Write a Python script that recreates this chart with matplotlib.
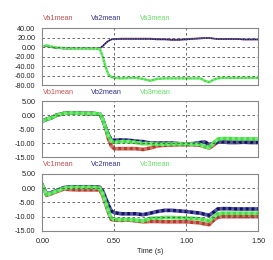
import matplotlib.pyplot as plt

# Tiempo (s)
t = [0.00, 0.03, 0.06, 0.10, 0.15, 0.20, 0.25, 0.30, 0.35, 0.40, 0.42, 0.44,
     0.46, 0.48, 0.50, 0.55, 0.60, 0.65, 0.70, 0.75, 0.80, 0.85, 0.90, 0.95,
     1.00, 1.05, 1.10, 1.13, 1.16, 1.19, 1.22, 1.25, 1.30, 1.35, 1.40, 1.45, 1.50]

va1 = [0, 2, 0, -2, -3, -3, -3, -3, -3, -3, 2, 8, 13, 16, 17, 18, 18, 18, 18, 18,
       17, 17, 16, 16, 17, 18, 19, 19, 19, 18, 17, 17, 17, 17, 16, 16, 16]
va2 = [0, 2, 0, -2, -3, -3, -3, -3, -3, -3, 2, 8, 13, 16, 17, 17, 17, 17, 17, 17,
       16, 16, 15, 15, 16, 17, 18, 19, 19, 18, 17, 17, 17, 17, 16, 16, 16]
va3 = [0, 4, 1, -1, -2, -3, -3, -3, -3, -4, -20, -42, -58, -63, -65, -66, -65,
       -65, -67, -71, -67, -66, -66, -66, -66, -66, -66, -71, -74, -69, -66, -65,
       -65, -65, -65, -65, -65]

vb1 = [-2.2, -1.5, -1.0, 0.0, 0.6, 0.8, 0.7, 0.6, 0.6, 0.4, -1.5, -4.5, -8.5,
       -11.0, -12.0, -12.0, -12.0, -12.0, -12.3, -11.8, -11.0, -10.8, -10.7,
       -10.6, -10.6, -10.6, -10.8, -11.3, -11.8, -10.8, -9.6, -9.5, -9.6, -9.6,
       -9.6, -9.6, -9.6]
vb2 = [-2.2, -1.5, -1.0, 0.0, 0.6, 0.8, 0.7, 0.6, 0.6, 0.4, -1.5, -4.5, -7.0,
       -9.0, -9.0, -8.9, -9.0, -9.3, -9.5, -10.0, -10.0, -10.0, -10.0, -10.2,
       -10.3, -10.2, -9.8, -9.6, -10.5, -10.2, -9.6, -9.6, -9.8, -9.8, -9.7,
       -9.8, -9.8]
vb3 = [-2.2, -1.5, -1.0, 0.0, 0.6, 0.8, 0.7, 0.6, 0.6, 0.4, -1.5, -4.5, -7.5,
       -9.3, -9.8, -9.5, -9.5, -9.8, -10.2, -10.2, -10.4, -10.4, -10.3, -10.3,
       -10.3, -10.4, -10.5, -11.3, -11.6, -10.0, -8.6, -8.4, -8.4, -8.5, -8.5,
       -8.5, -8.5]

vc1 = [1.0, -2.5, -2.0, -1.2, -0.3, -0.5, -0.6, -0.6, -0.6, -0.6, -2.5, -5.5,
       -8.5, -11.0, -11.2, -11.3, -11.2, -11.5, -11.8, -11.7, -11.7, -11.8,
       -11.8, -11.8, -11.8, -12.0, -12.2, -12.6, -12.8, -11.3, -10.2, -10.0,
       -10.0, -10.0, -10.0, -10.0, -10.0]
vc2 = [1.0, -2.0, -1.6, -0.8, 0.2, 0.5, 0.5, 0.5, 0.5, 0.3, -1.0, -3.5, -6.0,
       -8.0, -8.6, -9.0, -9.0, -9.0, -9.3, -8.8, -8.2, -7.8, -7.8, -8.0, -8.2,
       -8.5, -8.8, -9.2, -9.5, -8.5, -7.3, -7.2, -7.2, -7.3, -7.3, -7.3, -7.3]
vc3 = [1.0, -2.3, -1.8, -1.0, 0.0, 0.3, 0.3, 0.3, 0.3, 0.0, -2.0, -5.0, -8.0,
       -10.5, -11.0, -11.0, -11.0, -11.2, -11.5, -10.6, -10.5, -10.3, -10.3,
       -10.4, -10.5, -10.6, -10.8, -11.2, -11.5, -10.2, -9.0, -8.8, -8.8, -8.8,
       -8.8, -8.8, -8.8]

paneles = [
    (['Va1mean', 'Va2mean', 'Va3mean'], [va1, va2, va3], (-80, 40),
     [40, 20, 0, -20, -40, -60, -80]),
    (['Vb1mean', 'Vb2mean', 'Vb3mean'], [vb1, vb2, vb3], (-15, 5),
     [5, 0, -5, -10, -15]),
    (['Vc1mean', 'Vc2mean', 'Vc3mean'], [vc1, vc2, vc3], (-15, 5),
     [5, 0, -5, -10, -15]),
]

colores = ['#b83a2a', '#101070', '#3ee03e']
colores_txt = ['#c05050', '#303088', '#66dd66']
# grosor por panel y serie
grosores = [[1.1, 1.1, 1.7], [2.6, 2.6, 2.6], [2.6, 2.6, 2.6]]

plt.rcParams['font.family'] = ['Liberation Sans', 'DejaVu Sans']
plt.rcParams['font.size'] = 5.2

fig = plt.figure(figsize=(2.73, 2.60), dpi=100)
posiciones = [[0.155, 0.673, 0.790, 0.219],
              [0.155, 0.396, 0.790, 0.215],
              [0.155, 0.112, 0.790, 0.219]]

for k, (nombres, series, ylim, yticks) in enumerate(paneles):
    ax = fig.add_axes(posiciones[k])
    for s, c, lw in zip(series, colores, grosores[k]):
        ax.plot(t, s, color=c, lw=lw)
        # textura de rizado
        ax.plot(t, s, color='white', alpha=0.3, lw=lw, ls=(0, (0.8, 0.8)))
    ax.set_xlim(0, 1.5)
    ax.set_ylim(*ylim)
    ax.set_yticks(yticks)
    ax.set_yticklabels(['%.2f' % v for v in yticks])
    ax.set_xticks([0, 0.5, 1.0, 1.5])
    for v in [0.5, 1.0]:
        ax.axvline(v, color='#555555', lw=0.6, ls=(0, (3, 3)))
    for v in yticks[1:-1]:
        ax.axhline(v, color='#555555', lw=0.6, ls=(0, (3, 3)))
    ax.tick_params(length=0, pad=5, colors='#222222')
    for sp in ax.spines.values():
        sp.set_color('#888888')
        sp.set_linewidth(0.8)
    if k < 2:
        ax.set_xticklabels([])
    else:
        ax.set_xticklabels(['0.00', '0.50', '1.00', '1.50'])
        ax.set_xlabel('Time (s)', labelpad=2, color='#222222')
    for nombre, xpos, c in zip(nombres, [0.003, 0.224, 0.453], colores_txt):
        ax.text(xpos, 1.16, nombre, color=c, transform=ax.transAxes,
                ha='left', va='center')

fig.savefig('out.png', dpi=100)
